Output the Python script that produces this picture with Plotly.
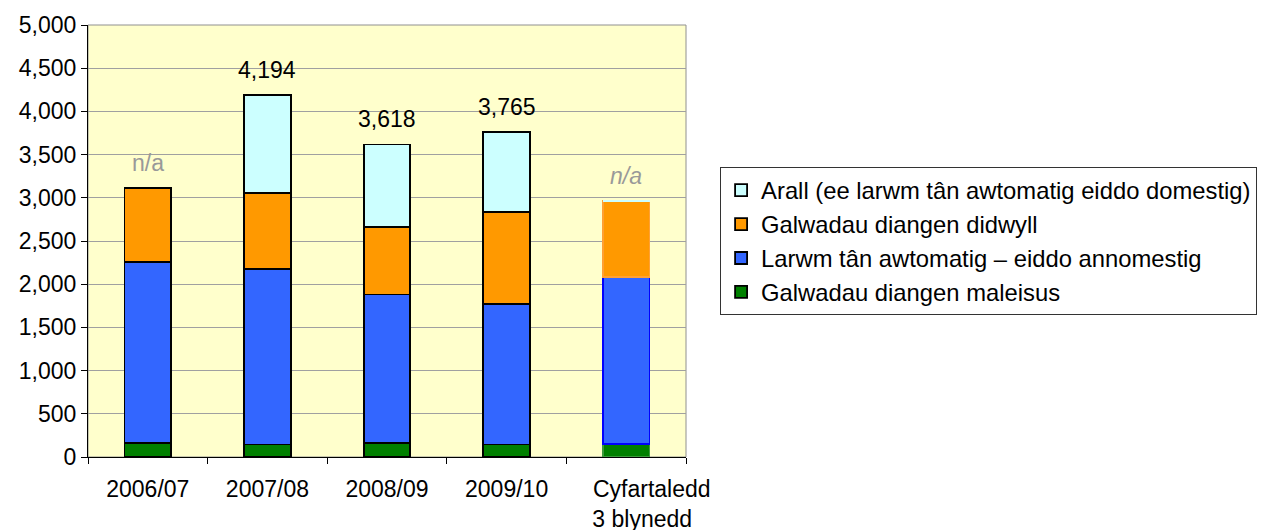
import plotly.graph_objects as go

# ---- data ----
NB = "&nbsp;"
categories = ["2006/07", "2007/08", "2008/09", "2009/10",
              NB * 8 + "Cyfartaledd<br>" + NB * 5 + "3 blynedd"]

series_names = [
    "Galwadau diangen maleisus",
    "Larwm tân awtomatig – eiddo annomestig",
    "Galwadau diangen didwyll",
    "Arall (ee larwm tân awtomatig eiddo domestig)",
]
maleisus = [160, 145, 160, 145, 155]
annomestig = [2100, 2030, 1720, 1630, 1925]
didwyll = [855, 880, 780, 1065, 880]
arall = [0, 1139, 958, 925, 0]

total_labels = ["n/a", "4,194", "3,618", "3,765", "<i>n/a</i>"]

colours = ["#008000", "#3366FF", "#FF9900", "#CCFFFF"]
avg_outline = ["#3C9A3C", "#0000FF", "#FFA033", "#CCFFFF"]

FONT = "Liberation Sans, Arial, sans-serif"

fig = go.Figure()
for i, (name, vals) in enumerate(zip(series_names, [maleisus, annomestig, didwyll, arall])):
    # the average bar has no black outline
    line_cols = ["#000000"] * (len(categories) - 1) + [avg_outline[i]]
    fig.add_trace(go.Bar(
        x=categories, y=vals, name=name,
        legendgroup=name,
        marker=dict(color=colours[i], line=dict(color=line_cols, width=1.8)),
        width=0.39,
    ))

# labels above each stack
totals = [sum(v) for v in zip(maleisus, annomestig, didwyll, arall)]
annotations = []
for cat, tot, lab in zip(categories, totals, total_labels):
    na = "n/a" in lab
    annotations.append(dict(
        x=cat, y=tot, text=lab, showarrow=False,
        yanchor="bottom", yshift=10,
        font=dict(size=23, color="#999999" if na else "#000000", family=FONT),
    ))

fig.update_layout(
    width=1271, height=530,
    margin=dict(l=80, r=593, t=17, b=81, autoexpand=False),
    paper_bgcolor="white",
    plot_bgcolor="#FFFFCC",
    barmode="stack",
    font=dict(family=FONT, size=23, color="#000000"),
    annotations=annotations,
    legend=dict(
        x=1.057, y=0.671, xanchor="left", yanchor="top",
        traceorder="reversed", tracegroupgap=12,
        bordercolor="#333333", borderwidth=1,
        font=dict(size=23.8, family=FONT),
    ),
    xaxis=dict(
        showline=True, linecolor="#000000", linewidth=1,
        ticks="outside", tickson="boundaries", ticklen=6, tickcolor="#000000",
        tickfont=dict(size=23), tickangle=0, ticklabelstandoff=11,
        automargin=False,
    ),
    yaxis=dict(
        range=[0, 5000], dtick=500, tickformat=",",
        showline=True, linecolor="#000000", linewidth=1,
        ticks="outside", ticklen=6, tickcolor="#000000",
        gridcolor="#A0A0A0", gridwidth=1,
        tickfont=dict(size=23), zeroline=False, automargin=False,
    ),
    shapes=[dict(type="rect", xref="paper", yref="paper", x0=0, x1=1, y0=0, y1=1,
                 line=dict(color="#909090", width=1), layer="below")],
    showlegend=True,
)

fig.write_html("out.html")
